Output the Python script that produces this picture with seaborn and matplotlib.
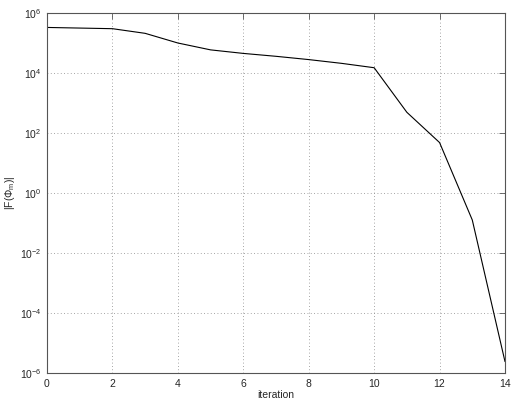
import numpy as np
import pandas as pd
import seaborn as sns
import matplotlib.pyplot as plt
from matplotlib.ticker import LogLocator, NullLocator

# residual norm per Newton iteration
iterations = [0, 2, 3, 4, 5, 6, 7, 8, 9, 10, 11, 12, 13, 14]
residuals = [3.3e5, 3.0e5, 2.1e5, 1.0e5, 5.9e4, 4.5e4, 3.6e4, 2.8e4, 2.1e4,
             1.5e4, 4.9e2, 4.8e1, 1.26e-1, 2.4e-6]
xticks = [0, 2, 4, 6, 8, 10, 12, 14]
yticks = [1e-6, 1e-4, 1e-2, 1e0, 1e2, 1e4, 1e6]

df = pd.DataFrame({'iteration': iterations, 'residual': residuals})

sns.set_style("white")
plt.rcParams['font.family'] = ['Liberation Sans', 'DejaVu Sans']
plt.rcParams['mathtext.fontset'] = 'custom'
plt.rcParams['mathtext.rm'] = 'Liberation Sans'
plt.rcParams['mathtext.it'] = 'Liberation Sans'

fig = plt.figure(figsize=(5.14, 4.03), dpi=100)
ax = fig.add_axes([47 / 514, 30 / 403, 458 / 514, 360 / 403])

sns.lineplot(data=df, x='iteration', y='residual', ax=ax, color='black',
             linewidth=0.8, estimator=None)
ax.set_yscale('log')
ax.set_xlim(0, 14)
ax.set_ylim(1e-6, 1e6)
ax.set_xticks(xticks)
ax.set_yticks(yticks)
ax.yaxis.set_minor_locator(NullLocator())

ax.grid(True, which='major', linestyle=(0, (1, 3)), color='#888888', linewidth=0.6)
for s in ax.spines.values():
    s.set_color('#555555')
    s.set_linewidth(0.8)
ax.tick_params(direction='in', top=True, right=True, length=4, width=0.6,
               color='#555555', labelsize=7.5, pad=4)

ax.set_xlabel('iteration', fontsize=7.5, labelpad=1)
ax.set_ylabel(r'|F($\Phi_m$)|', fontsize=7.5, labelpad=2)

fig.savefig('out.png', dpi=100)
